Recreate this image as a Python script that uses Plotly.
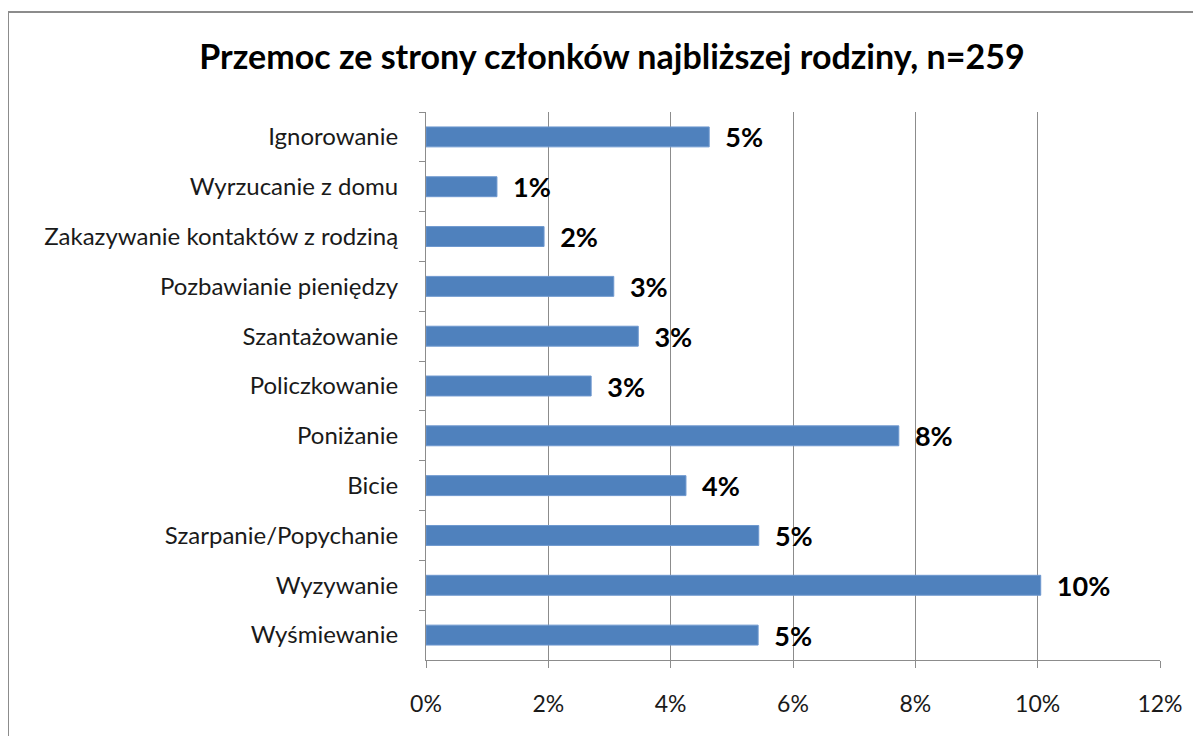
import plotly.graph_objects as go

categories = ["Ignorowanie", "Wyrzucanie z domu", "Zakazywanie kontaktów z rodziną",
              "Pozbawianie pieniędzy", "Szantażowanie", "Policzkowanie", "Poniżanie",
              "Bicie", "Szarpanie/Popychanie", "Wyzywanie", "Wyśmiewanie"]
values = [0.0463, 0.0116, 0.0193, 0.0307, 0.0347, 0.0270, 0.0773, 0.0425, 0.0544, 0.1005, 0.0543]
x_ticks = [0, 0.02, 0.04, 0.06, 0.08, 0.10, 0.12]
x_tick_labels = ["0%", "2%", "4%", "6%", "8%", "10%", "12%"]
title = "Przemoc ze strony członków najbliższej rodziny, n=259"

FONT = "Lato"
OFF = 8  # page body offset
W, H = 1201, 736
PX0, PX1, PY0, PY1 = 426, 1160, 112, 660  # plot area on screen
L, R, T, B = PX0 - OFF, W - PX1 + OFF, PY0 - OFF, H - PY1 + OFF
pw, ph = PX1 - PX0, PY1 - PY0

fig = go.Figure(go.Bar(
    y=categories, x=values, orientation="h",
    marker=dict(color="#4F81BD", line=dict(color="#6E98CF", width=1)),
    width=0.4,
    text=["  " + f"{v:.0%}" for v in values],
    textposition="outside",
    constraintext="none",
    textfont=dict(family=FONT, size=27, color="#000000", weight="bold"),
    cliponaxis=False,
))

fig.update_layout(
    width=W, height=H,
    margin=dict(l=L, r=R, t=T, b=B),
    paper_bgcolor="white", plot_bgcolor="white",
    title=dict(text="<b>" + title + "</b>", x=(612 - OFF) / W, xanchor="center",
               y=1 - (57 - OFF) / H, yanchor="middle",
               font=dict(family=FONT, size=34, color="#000000")),
    showlegend=False,
    xaxis=dict(range=[0, 0.12], tickvals=x_ticks, ticktext=x_tick_labels,
               showgrid=True, gridcolor="#8C8C8C", gridwidth=1,
               showline=True, linecolor="#8C8C8C", linewidth=1,
               ticks="outside", ticklen=7, tickcolor="#8C8C8C",
               ticklabelstandoff=16, zeroline=False,
               tickfont=dict(family=FONT, size=23, color="#1a1a1a")),
    yaxis=dict(categoryorder="array", categoryarray=categories, autorange="reversed",
               showline=True, linecolor="#8C8C8C", linewidth=1,
               ticks="outside", ticklen=6, tickcolor="#8C8C8C", tickson="boundaries",
               ticklabelstandoff=22, showgrid=False,
               tickfont=dict(family=FONT, size=24, color="#1a1a1a")),
    bargap=0.6,
)

# outer chart frame
fig.add_shape(type="rect", xref="paper", yref="paper",
              x0=(8 - PX0) / pw, x1=(W + 20 - PX0) / pw,
              y0=(PY1 - (H + 20)) / ph, y1=(PY1 - 12) / ph,
              line=dict(color="#8C8C8C", width=2), fillcolor="rgba(0,0,0,0)", layer="below")

fig.write_html("out.html")
